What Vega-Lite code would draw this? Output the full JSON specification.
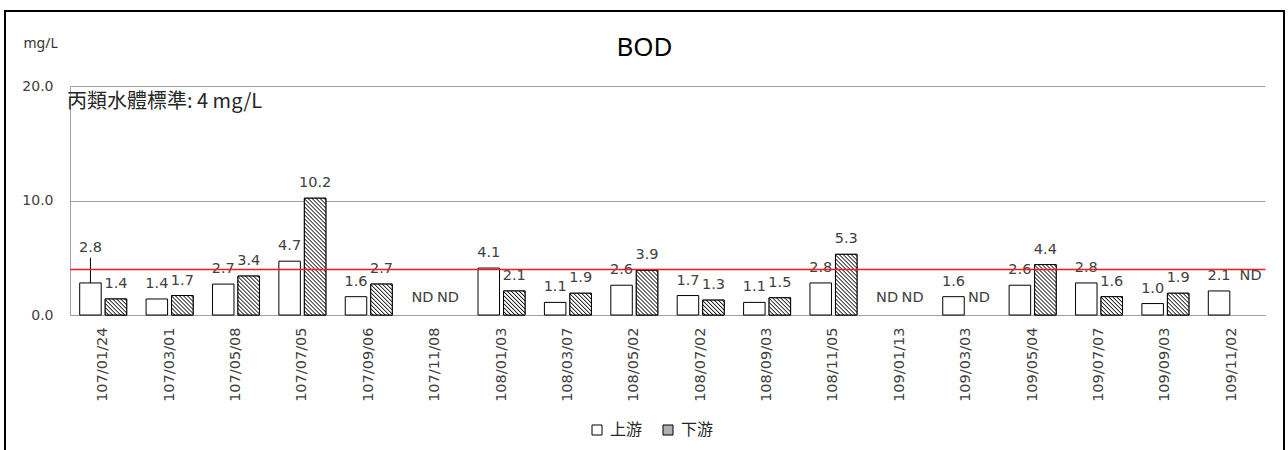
{
  "$schema": "https://vega.github.io/schema/vega-lite/v6.json",
  "width": 1279,
  "height": 439,
  "autosize": {"type": "none"},
  "padding": {"left": 5, "top": 11, "right": 4, "bottom": 0},
  "background": "white",
  "config": {
    "view": {"stroke": "black", "strokeWidth": 2, "strokeDash": [1718, 1279, 439]}
  },
  "title": {
    "text": "BOD",
    "anchor": "middle",
    "frame": "group",
    "offset": -44.7,
    "dy": 26,
    "baseline": "alphabetic",
    "font": "Noto Sans",
    "fontSize": 26,
    "fontWeight": "normal",
    "color": "#000000"
  },
  "params": [
    {
      "name": "hatch",
      "value": [
        {"offset": 0.005, "color": "#fff"}, {"offset": 0.0125, "color": "#111"}, {"offset": 0.02, "color": "#fff"},
        {"offset": 0.03, "color": "#fff"}, {"offset": 0.0375, "color": "#111"}, {"offset": 0.045, "color": "#fff"},
        {"offset": 0.055, "color": "#fff"}, {"offset": 0.0625, "color": "#111"}, {"offset": 0.07, "color": "#fff"},
        {"offset": 0.08, "color": "#fff"}, {"offset": 0.0875, "color": "#111"}, {"offset": 0.095, "color": "#fff"},
        {"offset": 0.105, "color": "#fff"}, {"offset": 0.1125, "color": "#111"}, {"offset": 0.12, "color": "#fff"},
        {"offset": 0.13, "color": "#fff"}, {"offset": 0.1375, "color": "#111"}, {"offset": 0.145, "color": "#fff"},
        {"offset": 0.155, "color": "#fff"}, {"offset": 0.1625, "color": "#111"}, {"offset": 0.17, "color": "#fff"},
        {"offset": 0.18, "color": "#fff"}, {"offset": 0.1875, "color": "#111"}, {"offset": 0.195, "color": "#fff"},
        {"offset": 0.205, "color": "#fff"}, {"offset": 0.2125, "color": "#111"}, {"offset": 0.22, "color": "#fff"},
        {"offset": 0.23, "color": "#fff"}, {"offset": 0.2375, "color": "#111"}, {"offset": 0.245, "color": "#fff"},
        {"offset": 0.255, "color": "#fff"}, {"offset": 0.2625, "color": "#111"}, {"offset": 0.27, "color": "#fff"},
        {"offset": 0.28, "color": "#fff"}, {"offset": 0.2875, "color": "#111"}, {"offset": 0.295, "color": "#fff"},
        {"offset": 0.305, "color": "#fff"}, {"offset": 0.3125, "color": "#111"}, {"offset": 0.32, "color": "#fff"},
        {"offset": 0.33, "color": "#fff"}, {"offset": 0.3375, "color": "#111"}, {"offset": 0.345, "color": "#fff"},
        {"offset": 0.355, "color": "#fff"}, {"offset": 0.3625, "color": "#111"}, {"offset": 0.37, "color": "#fff"},
        {"offset": 0.38, "color": "#fff"}, {"offset": 0.3875, "color": "#111"}, {"offset": 0.395, "color": "#fff"},
        {"offset": 0.405, "color": "#fff"}, {"offset": 0.4125, "color": "#111"}, {"offset": 0.42, "color": "#fff"},
        {"offset": 0.43, "color": "#fff"}, {"offset": 0.4375, "color": "#111"}, {"offset": 0.445, "color": "#fff"},
        {"offset": 0.455, "color": "#fff"}, {"offset": 0.4625, "color": "#111"}, {"offset": 0.47, "color": "#fff"},
        {"offset": 0.48, "color": "#fff"}, {"offset": 0.4875, "color": "#111"}, {"offset": 0.495, "color": "#fff"},
        {"offset": 0.505, "color": "#fff"}, {"offset": 0.5125, "color": "#111"}, {"offset": 0.52, "color": "#fff"},
        {"offset": 0.53, "color": "#fff"}, {"offset": 0.5375, "color": "#111"}, {"offset": 0.545, "color": "#fff"},
        {"offset": 0.555, "color": "#fff"}, {"offset": 0.5625, "color": "#111"}, {"offset": 0.57, "color": "#fff"},
        {"offset": 0.58, "color": "#fff"}, {"offset": 0.5875, "color": "#111"}, {"offset": 0.595, "color": "#fff"},
        {"offset": 0.605, "color": "#fff"}, {"offset": 0.6125, "color": "#111"}, {"offset": 0.62, "color": "#fff"},
        {"offset": 0.63, "color": "#fff"}, {"offset": 0.6375, "color": "#111"}, {"offset": 0.645, "color": "#fff"},
        {"offset": 0.655, "color": "#fff"}, {"offset": 0.6625, "color": "#111"}, {"offset": 0.67, "color": "#fff"},
        {"offset": 0.68, "color": "#fff"}, {"offset": 0.6875, "color": "#111"}, {"offset": 0.695, "color": "#fff"},
        {"offset": 0.705, "color": "#fff"}, {"offset": 0.7125, "color": "#111"}, {"offset": 0.72, "color": "#fff"},
        {"offset": 0.73, "color": "#fff"}, {"offset": 0.7375, "color": "#111"}, {"offset": 0.745, "color": "#fff"},
        {"offset": 0.755, "color": "#fff"}, {"offset": 0.7625, "color": "#111"}, {"offset": 0.77, "color": "#fff"},
        {"offset": 0.78, "color": "#fff"}, {"offset": 0.7875, "color": "#111"}, {"offset": 0.795, "color": "#fff"},
        {"offset": 0.805, "color": "#fff"}, {"offset": 0.8125, "color": "#111"}, {"offset": 0.82, "color": "#fff"},
        {"offset": 0.83, "color": "#fff"}, {"offset": 0.8375, "color": "#111"}, {"offset": 0.845, "color": "#fff"},
        {"offset": 0.855, "color": "#fff"}, {"offset": 0.8625, "color": "#111"}, {"offset": 0.87, "color": "#fff"},
        {"offset": 0.88, "color": "#fff"}, {"offset": 0.8875, "color": "#111"}, {"offset": 0.895, "color": "#fff"},
        {"offset": 0.905, "color": "#fff"}, {"offset": 0.9125, "color": "#111"}, {"offset": 0.92, "color": "#fff"},
        {"offset": 0.93, "color": "#fff"}, {"offset": 0.9375, "color": "#111"}, {"offset": 0.945, "color": "#fff"},
        {"offset": 0.955, "color": "#fff"}, {"offset": 0.9625, "color": "#111"}, {"offset": 0.97, "color": "#fff"},
        {"offset": 0.98, "color": "#fff"}, {"offset": 0.9875, "color": "#111"}, {"offset": 0.995, "color": "#fff"}
      ]
    }
  ],
  "data": {
    "values": [
      {"date": "107/01/24", "series": "上游", "value": 2.8},
      {"date": "107/01/24", "series": "下游", "value": 1.4},
      {"date": "107/03/01", "series": "上游", "value": 1.4},
      {"date": "107/03/01", "series": "下游", "value": 1.7},
      {"date": "107/05/08", "series": "上游", "value": 2.7},
      {"date": "107/05/08", "series": "下游", "value": 3.4},
      {"date": "107/07/05", "series": "上游", "value": 4.7},
      {"date": "107/07/05", "series": "下游", "value": 10.2},
      {"date": "107/09/06", "series": "上游", "value": 1.6},
      {"date": "107/09/06", "series": "下游", "value": 2.7},
      {"date": "107/11/08", "series": "上游", "value": null},
      {"date": "107/11/08", "series": "下游", "value": null},
      {"date": "108/01/03", "series": "上游", "value": 4.1},
      {"date": "108/01/03", "series": "下游", "value": 2.1},
      {"date": "108/03/07", "series": "上游", "value": 1.1},
      {"date": "108/03/07", "series": "下游", "value": 1.9},
      {"date": "108/05/02", "series": "上游", "value": 2.6},
      {"date": "108/05/02", "series": "下游", "value": 3.9},
      {"date": "108/07/02", "series": "上游", "value": 1.7},
      {"date": "108/07/02", "series": "下游", "value": 1.3},
      {"date": "108/09/03", "series": "上游", "value": 1.1},
      {"date": "108/09/03", "series": "下游", "value": 1.5},
      {"date": "108/11/05", "series": "上游", "value": 2.8},
      {"date": "108/11/05", "series": "下游", "value": 5.3},
      {"date": "109/01/13", "series": "上游", "value": null},
      {"date": "109/01/13", "series": "下游", "value": null},
      {"date": "109/03/03", "series": "上游", "value": 1.6},
      {"date": "109/03/03", "series": "下游", "value": null},
      {"date": "109/05/04", "series": "上游", "value": 2.6},
      {"date": "109/05/04", "series": "下游", "value": 4.4},
      {"date": "109/07/07", "series": "上游", "value": 2.8},
      {"date": "109/07/07", "series": "下游", "value": 1.6},
      {"date": "109/09/03", "series": "上游", "value": 1.0},
      {"date": "109/09/03", "series": "下游", "value": 1.9},
      {"date": "109/11/02", "series": "上游", "value": 2.1},
      {"date": "109/11/02", "series": "下游", "value": null}
    ]
  },
  "resolve": {"axis": {"y": "independent"}},
  "layer": [
    {
      "mark": {"type": "bar", "stroke": "#000000", "strokeWidth": 1},
      "encoding": {
        "x": {
          "field": "date",
          "type": "nominal",
          "sort": null,
          "title": null,
          "scale": {
            "domain": ["107/01/24", "107/03/01", "107/05/08", "107/07/05", "107/09/06", "107/11/08", "108/01/03", "108/03/07", "108/05/02", "108/07/02", "108/09/03", "108/11/05", "109/01/13", "109/03/03", "109/05/04", "109/07/07", "109/09/03", "109/11/02"],
            "range": [65, 1260],
            "paddingInner": 0,
            "paddingOuter": 0
          },
          "axis": {
            "orient": "bottom",
            "offset": -135,
            "title": null,
            "labelAngle": -90,
            "labelAlign": "right",
            "labelBaseline": "middle",
            "labelPadding": 12,
            "ticks": false,
            "domain": true,
            "domainColor": "#a0a0a0",
            "domainWidth": 1,
            "grid": false,
            "labelFont": "DejaVu Sans",
            "labelFontSize": 14.5,
            "labelColor": "#404040",
            "labelOverlap": false,
            "labelBound": false,
            "labelLimit": 200
          }
        },
        "xOffset": {
          "field": "series",
          "type": "nominal",
          "scale": {"domain": ["上游", "下游"], "paddingInner": 0.157, "paddingOuter": 0.38}
        },
        "y": {
          "field": "value",
          "type": "quantitative",
          "scale": {"domain": [0, 20], "range": [304, 75], "nice": false},
          "axis": {
            "orient": "left",
            "offset": -65,
            "values": [0, 10, 20],
            "format": ".1f",
            "grid": true,
            "gridColor": "#a0a0a0",
            "gridWidth": 1,
            "domain": true,
            "domainColor": "#a0a0a0",
            "ticks": false,
            "labelPadding": 17,
            "labelFont": "DejaVu Sans",
            "labelFontSize": 14,
            "labelColor": "#404040",
            "title": "mg/L",
            "titleAngle": 0,
            "titleAlign": "left",
            "titleBaseline": "alphabetic",
            "titleX": -47,
            "titleY": 36,
            "titleFont": "Noto Sans",
            "titleFontSize": 14,
            "titleFontWeight": "normal",
            "titleColor": "#333333"
          }
        },
        "fill": {
          "field": "series",
          "type": "nominal",
          "scale": {"domain": ["上游", "下游"], "range": ["#ffffff", "#b0b0b0"]},
          "legend": {
            "orient": "none",
            "legendX": 584,
            "legendY": 411,
            "direction": "horizontal",
            "title": null,
            "symbolType": "square",
            "symbolSize": 100,
            "symbolStrokeColor": "#000000",
            "symbolStrokeWidth": 1,
            "labelFont": "Noto Sans CJK TC",
            "labelFontSize": 16,
            "labelColor": "#262626",
            "labelOffset": 5,
            "columnPadding": 17,
            "encode": {
              "symbols": {
                "update": {
                  "stroke": {"value": "#000000"},
                  "fill": {"signal": "datum.value == '下游' ? {gradient: 'linear', x1: 1, y1: 0, x2: -7, y2: 8, stops: hatch} : '#ffffff'"}
                }
              }
            }
          }
        }
      }
    },
    {
      "transform": [{"filter": "datum.series == '下游' && datum.value != null"}],
      "mark": {
        "type": "bar",
        "stroke": "#000000",
        "strokeWidth": 1,
        "fill": {"expr": "{gradient: 'linear', x1: 1, y1: 0, x2: 1 - 160 * 21.5 / (462.25 + pow(datum.value * 11.45, 2)), y2: 160 * datum.value * 11.45 / (462.25 + pow(datum.value * 11.45, 2)), stops: hatch}"}
      },
      "encoding": {
        "x": {"field": "date", "type": "nominal", "sort": null, "title": null},
        "xOffset": {"field": "series", "type": "nominal"},
        "y": {"field": "value", "type": "quantitative", "axis": null}
      }
    },
    {
      "transform": [{"filter": "datum.date == '107/01/24' && datum.series == '上游'"}],
      "mark": {"type": "rule", "stroke": "#000000", "strokeWidth": 1},
      "encoding": {
        "x": {"field": "date", "type": "nominal", "sort": null, "title": null},
        "xOffset": {"field": "series", "type": "nominal"},
        "y": {"field": "value", "type": "quantitative", "axis": null},
        "y2": {"datum": 5.0}
      }
    },
    {
      "transform": [{"filter": "datum.value != null"}],
      "mark": {"type": "text", "baseline": "alphabetic", "font": "DejaVu Sans", "fontSize": 14.5, "color": "#404040", "dy": {"expr": "datum.date == '107/01/24' && datum.series == '上游' ? -31 : -11"}},
      "encoding": {
        "x": {"field": "date", "type": "nominal", "sort": null, "title": null},
        "xOffset": {"field": "series", "type": "nominal"},
        "y": {"field": "value", "type": "quantitative", "axis": null},
        "text": {"field": "value", "type": "quantitative", "format": ".1f"}
      }
    },
    {
      "transform": [{"filter": "datum.value == null"}],
      "mark": {
        "type": "text",
        "baseline": "alphabetic",
        "font": "DejaVu Sans",
        "fontSize": 14.5,
        "color": "#404040",
        "dx": {"expr": "datum.date == '109/11/02' ? 6 : 0"},
        "dy": {"expr": "datum.date == '109/11/02' ? -35 : -13"}
      },
      "encoding": {
        "x": {"field": "date", "type": "nominal", "sort": null, "title": null},
        "xOffset": {"field": "series", "type": "nominal"},
        "y": {"datum": 0, "type": "quantitative", "axis": null},
        "text": {"value": "ND"}
      }
    },
    {
      "data": {"values": [{"note": "丙類水體標準: 4 mg/L"}]},
      "mark": {"type": "text", "align": "left", "baseline": "middle", "font": "Noto Sans CJK TC", "fontSize": 20, "color": "#262626", "dx": -3, "dy": 16},
      "encoding": {
        "x": {"datum": "107/01/24", "type": "nominal", "bandPosition": 0},
        "y": {
          "datum": 20,
          "type": "quantitative",
          "axis": {
            "orient": "left",
            "offset": -65,
            "values": [4],
            "grid": true,
            "gridColor": "#ff1a1a",
            "gridWidth": 1.5,
            "domain": false,
            "ticks": false,
            "labels": false,
            "title": null,
            "zindex": 1
          }
        },
        "text": {"field": "note", "type": "nominal"}
      }
    }
  ]
}
